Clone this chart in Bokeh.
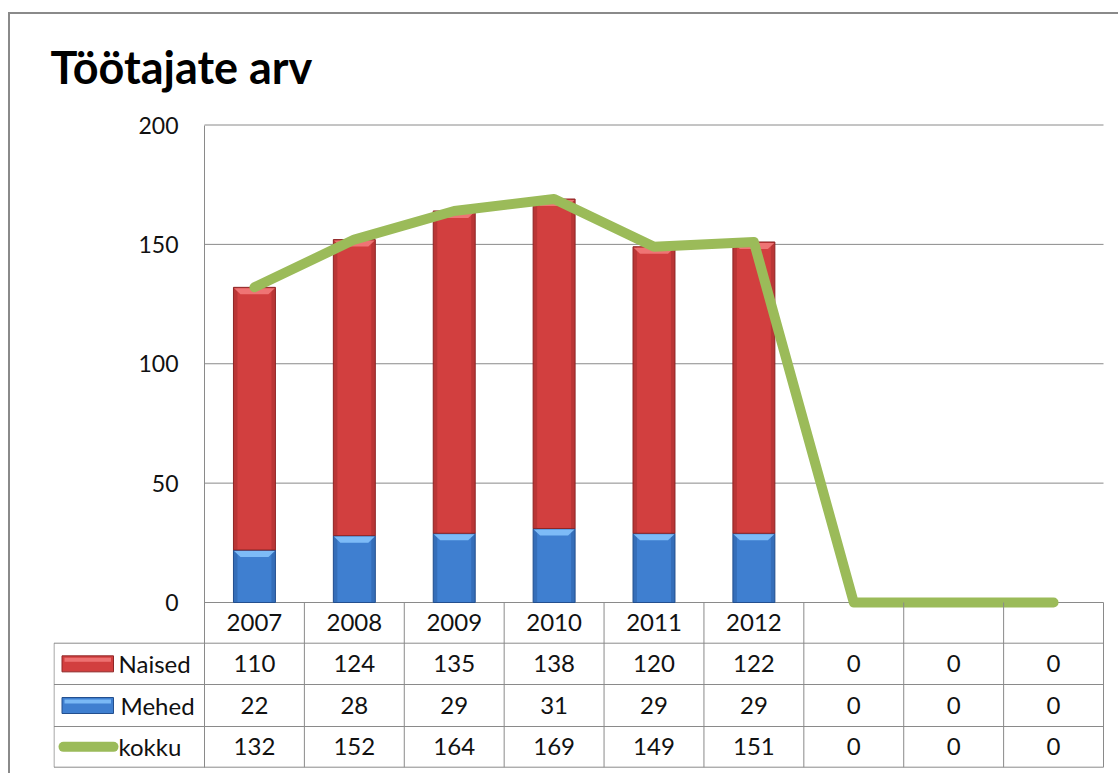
from bokeh.plotting import figure
from bokeh.models import Range1d, FixedTicker, LinearAxis
from bokeh.layouts import column
from bokeh.embed import file_html
from bokeh.resources import INLINE
from bokeh.core.properties import value

# ---- data ----
years = ["2007", "2008", "2009", "2010", "2011", "2012", "", "", ""]
naised = [110, 124, 135, 138, 120, 122, 0, 0, 0]
mehed = [22, 28, 29, 31, 29, 29, 0, 0, 0]
kokku = [132, 152, 164, 169, 149, 151, 0, 0, 0]
series_names = ["Naised", "Mehed", "kokku"]
y_ticks = [0, 50, 100, 150, 200]

FONT = "Lato"
GRID = "#8a8a8a"
TXT = "#111111"
RED, RED_DARK, RED_LIGHT = "#d23f3f", "#8e2626", "#f27a7a"
BLUE, BLUE_DARK, BLUE_LIGHT = "#3f7fd0", "#234f8e", "#84c2fb"
GREEN = "#9bbb59"

n = len(years)
xs = list(range(n))
BAR_W = 0.42

# ---- layout geometry (page pixels) ----
ORG_X, ORG_Y = 10, 14          # figure origin on the page
W, H = 1108, 759
AX_PX = 204                    # value axis position
FR_L, FR_R, FR_T, FR_B = 53, 1105, 108, 768
Y0_PX, Y200_PX = 602, 124.5
ppu_x = (FR_R - AX_PX) / (n + 0.02)
ppu_y = (Y0_PX - Y200_PX) / 200.0

def dx(px):  # page x -> data x
    return -0.5 + (px - AX_PX) / ppu_x

def dy(py):  # page y -> data y
    return (Y0_PX - py) / ppu_y

ROW_B = [602, 642.7, 684, 726, 766.7]       # table row boundaries (page px)

p = figure(width=W, height=H, output_backend="svg", toolbar_location=None,
           x_range=Range1d(dx(FR_L), dx(FR_R)), y_range=Range1d(dy(FR_B), dy(FR_T)),
           min_border_left=FR_L - ORG_X, min_border_right=ORG_X + W - FR_R,
           min_border_top=FR_T - ORG_Y, min_border_bottom=ORG_Y + H - FR_B,
           x_axis_location=None, y_axis_location=None, title="Töötajate arv")
p.title.text_font = FONT
p.title.text_font_size = "45px"
p.title.text_font_style = "bold"
p.title.text_color = "#000000"
p.title.align = "left"
p.title.offset = 50 - FR_L
p.title.standoff = 29
p.outline_line_color = None
p.grid.visible = False

# value axis fixed at the left edge of the category area
yaxis = LinearAxis(fixed_location=-0.5, ticker=FixedTicker(ticks=y_ticks),
                   bounds=(dy(ROW_B[-1]), max(y_ticks)))
yaxis.axis_line_color = GRID
yaxis.major_tick_line_color = None
yaxis.major_tick_out = 0
yaxis.major_tick_in = 0
yaxis.minor_tick_line_color = None
yaxis.major_label_standoff = 26
yaxis.major_label_text_font = FONT
yaxis.major_label_text_font_size = "23px"
yaxis.major_label_text_color = TXT
p.add_layout(yaxis, "left")

# horizontal gridlines over the category area
p.segment(x0=[-0.5] * len(y_ticks), x1=[n - 0.5] * len(y_ticks), y0=y_ticks, y1=y_ticks,
          line_color=GRID, line_width=1)

# ---- stacked bars ----
sel = [i for i in range(n) if naised[i] + mehed[i] > 0]
sx = [xs[i] for i in sel]
tops_n = [a + b for a, b in zip(mehed, naised)]
p.vbar(x=sx, bottom=0, top=[mehed[i] for i in sel], width=BAR_W,
       fill_color=BLUE, line_color=BLUE_DARK, line_width=1)
p.vbar(x=sx, bottom=[mehed[i] for i in sel], top=[tops_n[i] for i in sel],
       width=BAR_W, fill_color=RED, line_color=RED_DARK, line_width=1)

# side shading (3D look)
sw = 4 / ppu_x
for bots, tops, dark in [([0] * n, mehed, BLUE_DARK), (mehed, tops_n, RED_DARK)]:
    for side in (-1, 1):
        edge = [x + side * BAR_W / 2 for x in sx]
        inner = [e - side * sw for e in edge]
        p.quad(left=[min(a, b) for a, b in zip(edge, inner)],
               right=[max(a, b) for a, b in zip(edge, inner)],
               bottom=[bots[i] for i in sel], top=[tops[i] for i in sel],
               fill_color=dark, fill_alpha=0.35, line_color=None)

bev_h = 7 / ppu_y
bev_d = 7 / ppu_x
def bevel(tops):
    px, py = [], []
    for i in sel:
        x0, x1 = xs[i] - BAR_W / 2, xs[i] + BAR_W / 2
        t = tops[i]
        px.append([x0 + 0.006, x1 - 0.006, x1 - bev_d, x0 + bev_d])
        py.append([t - 0.4, t - 0.4, t - bev_h, t - bev_h])
    return px, py
bx, by = bevel(mehed)
p.patches(bx, by, fill_color=BLUE_LIGHT, line_color=None, fill_alpha=0.9)
bx, by = bevel(tops_n)
p.patches(bx, by, fill_color=RED_LIGHT, line_color=None, fill_alpha=0.9)

p.line(xs, kokku, line_color=GREEN, line_width=10, line_cap="round", line_join="round")

# ---- data table under the chart ----
row_c = [dy((ROW_B[k] + ROW_B[k + 1]) / 2) for k in range(4)]
TAB_L = dx(53.5)

# horizontal lines (label column + category cells)
p.multi_line([[TAB_L, n - 0.5] for _ in range(4)],
             [[dy(b), dy(b)] for b in ROW_B[1:]], line_color=GRID, line_width=1)
# vertical lines at category boundaries
p.multi_line([[i - 0.5, i - 0.5] for i in range(1, n + 1)],
             [[0, dy(ROW_B[-1])] for _ in range(1, n + 1)], line_color=GRID, line_width=1)
# left edge of the label column
p.line([TAB_L, TAB_L], [dy(ROW_B[1]), dy(ROW_B[-1])], line_color=GRID, line_width=1)

# header: years
p.text(x=xs, y=[row_c[0]] * n, text=years, text_font=value(FONT), text_font_size="24px",
       text_align="center", text_baseline="middle", text_color=TXT)
for r, vals in enumerate([naised, mehed, kokku], start=1):
    p.text(x=xs, y=[row_c[r]] * n, text=[str(v) for v in vals], text_font=value(FONT),
           text_font_size="24px", text_align="center", text_baseline="middle",
           text_color=TXT)

# legend keys
for r, (fc, lc, hc) in zip([1, 2], [(RED, RED_DARK, RED_LIGHT), (BLUE, BLUE_DARK, BLUE_LIGHT)]):
    cy = (ROW_B[r] + ROW_B[r + 1]) / 2
    p.quad(left=[dx(61.5)], right=[dx(113)], top=[dy(cy - 8)], bottom=[dy(cy + 8)],
           fill_color=fc, line_color=lc, line_width=1)
    p.quad(left=[dx(64)], right=[dx(110.5)], top=[dy(cy - 6)], bottom=[dy(cy - 2)],
           fill_color=hc, fill_alpha=0.85, line_color=None)
cy = (ROW_B[3] + ROW_B[4]) / 2
p.line([dx(63), dx(113)], [dy(cy), dy(cy)], line_color=GREEN, line_width=10, line_cap="round")

p.text(x=[dx(118), dx(120), dx(118)], y=row_c[1:], text=series_names, text_font=value(FONT),
       text_font_size="24px", text_align="left", text_baseline="middle", text_color=TXT)

layout = column(p, margin=(12, 0, 0, 8),
                styles={"border-left": "2px solid #8a8a8a", "border-top": "2px solid #8a8a8a"})

open("out.html", "w").write(file_html(layout, INLINE))
